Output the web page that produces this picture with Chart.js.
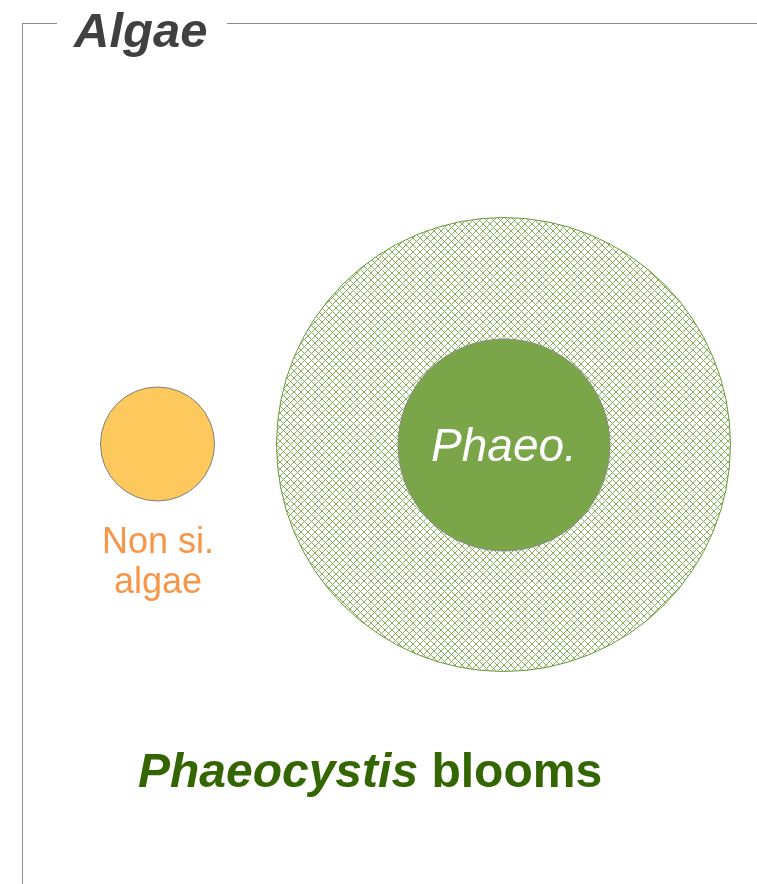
<!DOCTYPE html>
<html>
<head>
<meta charset="utf-8">
<script src="https://cdn.jsdelivr.net/npm/chart.js@4"></script>
<style>
  body { margin: 0; background: #fff; }
  canvas { display: block; }
</style>
</head>
<body>
<canvas id="c" width="757" height="884"></canvas>
<script>
// circles (centre x, centre y, radius) in page units
const circleNames = ['Phaeocystis blooms', 'Phaeo.', 'Non si. algae'];
const circleX = [503.5, 504, 157.5];
const circleY = [444.5, 445, 444];
const circleR = [227, 106, 57];

// crosshatch pattern for the bloom circle (pixel staircase, like the original)
const makeHatch = () => {
  const s = 7;
  const p = document.createElement('canvas');
  p.width = s;
  p.height = s;
  const g = p.getContext('2d');
  g.fillStyle = '#86b257';
  for (let i = 0; i < s; i++) {
    g.fillRect(i, i, 1, 1);
    g.fillRect(s - 1 - i, i, 1, 1);
  }
  return g.createPattern(p, 'repeat');
};

const ctx = document.getElementById('c').getContext('2d');

const pt = (i) => [{ x: circleX[i], y: circleY[i], r: circleR[i] }];

const FONT = '"Liberation Sans", Arial, sans-serif';

// frame and labels
const decor = {
  id: 'decor',
  afterDatasetsDraw(chart) {
    const c = chart.ctx;
    c.save();
    c.strokeStyle = '#8c8c8c';
    c.lineWidth = 1;
    c.beginPath();
    c.moveTo(22, 23.5); c.lineTo(57, 23.5);
    c.moveTo(227, 23.5); c.lineTo(757, 23.5);
    c.moveTo(22.5, 23); c.lineTo(22.5, 884);
    c.stroke();

    c.textBaseline = 'alphabetic';
    c.textAlign = 'left';
    c.fillStyle = '#404040';
    c.font = 'italic bold 49px ' + FONT;
    c.fillText('Algae', 74, 47);

    c.textAlign = 'center';
    c.fillStyle = '#ffffff';
    c.font = 'italic 46px ' + FONT;
    c.fillText(circleNames[1], 504, 461);

    c.fillStyle = '#f79646';
    c.font = '36px ' + FONT;
    c.fillText('Non si.', 158, 553);
    c.fillText('algae', 158, 593);

    c.fillStyle = '#336600';
    c.textAlign = 'left';
    c.font = 'italic bold 48px ' + FONT;
    const w1 = c.measureText('Phaeocystis').width;
    c.font = 'bold 48px ' + FONT;
    const w2 = c.measureText(' blooms').width;
    const x0 = 370 - (w1 + w2) / 2;
    c.font = 'italic bold 48px ' + FONT;
    c.fillText('Phaeocystis', x0, 787);
    c.font = 'bold 48px ' + FONT;
    c.fillText(' blooms', x0 + w1, 787);
    c.restore();
  }
};

new Chart(ctx, {
  type: 'bubble',
  data: {
    datasets: [
      {
        label: circleNames[0],
        data: pt(0),
        backgroundColor: makeHatch(),
        borderColor: '#6b9a3a',
        borderWidth: 1,
        clip: false,
        order: 3
      },
      {
        label: circleNames[1],
        data: pt(1),
        backgroundColor: '#7ba549',
        borderColor: '#8c8c8c',
        borderWidth: 1,
        clip: false,
        order: 2
      },
      {
        label: circleNames[2],
        data: pt(2),
        backgroundColor: '#fec95c',
        borderColor: '#7f7f7f',
        borderWidth: 1,
        clip: false,
        order: 1
      }
    ]
  },
  options: {
    responsive: false,
    animation: false,
    events: [],
    layout: { padding: 0, autoPadding: false },
    plugins: {
      legend: { display: false },
      tooltip: { enabled: false }
    },
    scales: {
      x: { type: 'linear', min: 0, max: 757, display: false },
      y: { type: 'linear', min: 0, max: 884, reverse: true, display: false }
    }
  },
  plugins: [decor]
});
</script>
</body>
</html>
